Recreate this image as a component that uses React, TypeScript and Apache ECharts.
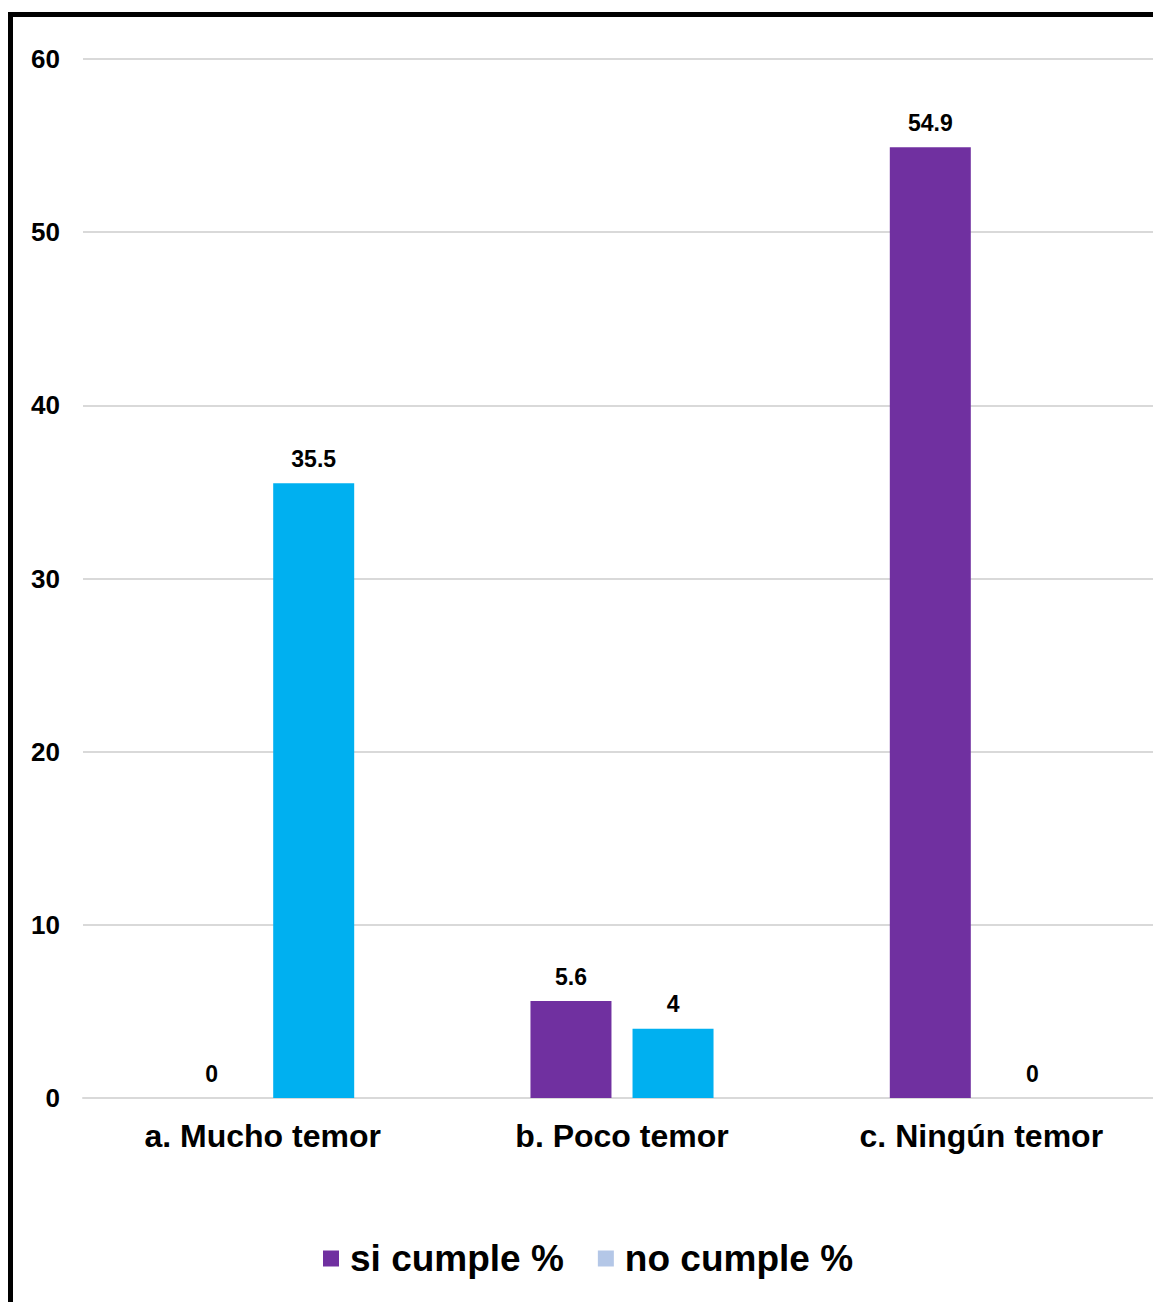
import React, { useEffect, useRef } from "react";
import * as echarts from "echarts";

const categories = ["a. Mucho temor", "b. Poco temor", "c. Ningún temor"];
const siCumple = [0, 5.6, 54.9];
const noCumple = [35.5, 4, 0];
const seriesNames = ["si cumple %", "no cumple %"];
const yTicks = { min: 0, max: 60, interval: 10 };

export default function App() {
  const ref = useRef<HTMLDivElement>(null);
  useEffect(() => {
    if (!ref.current) return;
    const chart = echarts.init(ref.current, null, { renderer: "svg" });
    const font = "Liberation Sans";
    const labelStyle = {
      show: true,
      position: "top" as const,
      distance: 13,
      color: "#000",
      fontFamily: font,
      fontWeight: 700,
      fontSize: 23,
    };
    chart.setOption({
      animation: false,
      backgroundColor: "#fff",
      graphic: [
        {
          type: "rect",
          shape: { x: 10.5, y: 14.5, width: 2000, height: 2000 },
          style: { fill: "none", stroke: "#000", lineWidth: 5 },
          silent: true,
        },
      ],
      grid: {
        left: 83,
        width: 1078,
        top: 59,
        bottom: 204,
        containLabel: false,
        outerBoundsMode: "none",
      },
      legend: {
        bottom: 20,
        left: 318,
        icon: "rect",
        itemWidth: 16,
        itemHeight: 16,
        itemGap: 34,
        textStyle: {
          color: "#000",
          fontFamily: font,
          fontWeight: 700,
          fontSize: 37,
          padding: [0, 0, 0, 6],
        },
        data: [
          { name: seriesNames[0] },
          { name: seriesNames[1], itemStyle: { color: "#B4C7E7" } },
        ],
      },
      xAxis: {
        type: "category",
        data: categories,
        axisLine: { show: true, lineStyle: { color: "#d9d9d9", width: 2 } },
        axisTick: { show: false },
        axisLabel: {
          color: "#000",
          fontFamily: font,
          fontWeight: 700,
          fontSize: 32,
          margin: 22,
        },
      },
      yAxis: {
        type: "value",
        min: yTicks.min,
        max: yTicks.max,
        interval: yTicks.interval,
        axisLine: { show: false },
        axisTick: { show: false },
        splitLine: { lineStyle: { color: "#d9d9d9", width: 2 } },
        axisLabel: {
          color: "#000",
          fontFamily: font,
          fontWeight: 700,
          fontSize: 26,
          margin: 23,
        },
      },
      series: [
        {
          name: seriesNames[0],
          type: "bar",
          data: siCumple,
          barWidth: 81,
          barGap: "26%",
          itemStyle: { color: "#7030A0" },
          label: labelStyle,
        },
        {
          name: seriesNames[1],
          type: "bar",
          data: noCumple,
          barWidth: 81,
          itemStyle: { color: "#00B0F0" },
          label: labelStyle,
        },
      ],
    });
    return () => chart.dispose();
  }, []);
  return (
    <div
      ref={ref}
      style={{ position: "fixed", left: 0, top: 0, width: 1153, height: 1302 }}
    />
  );
}
